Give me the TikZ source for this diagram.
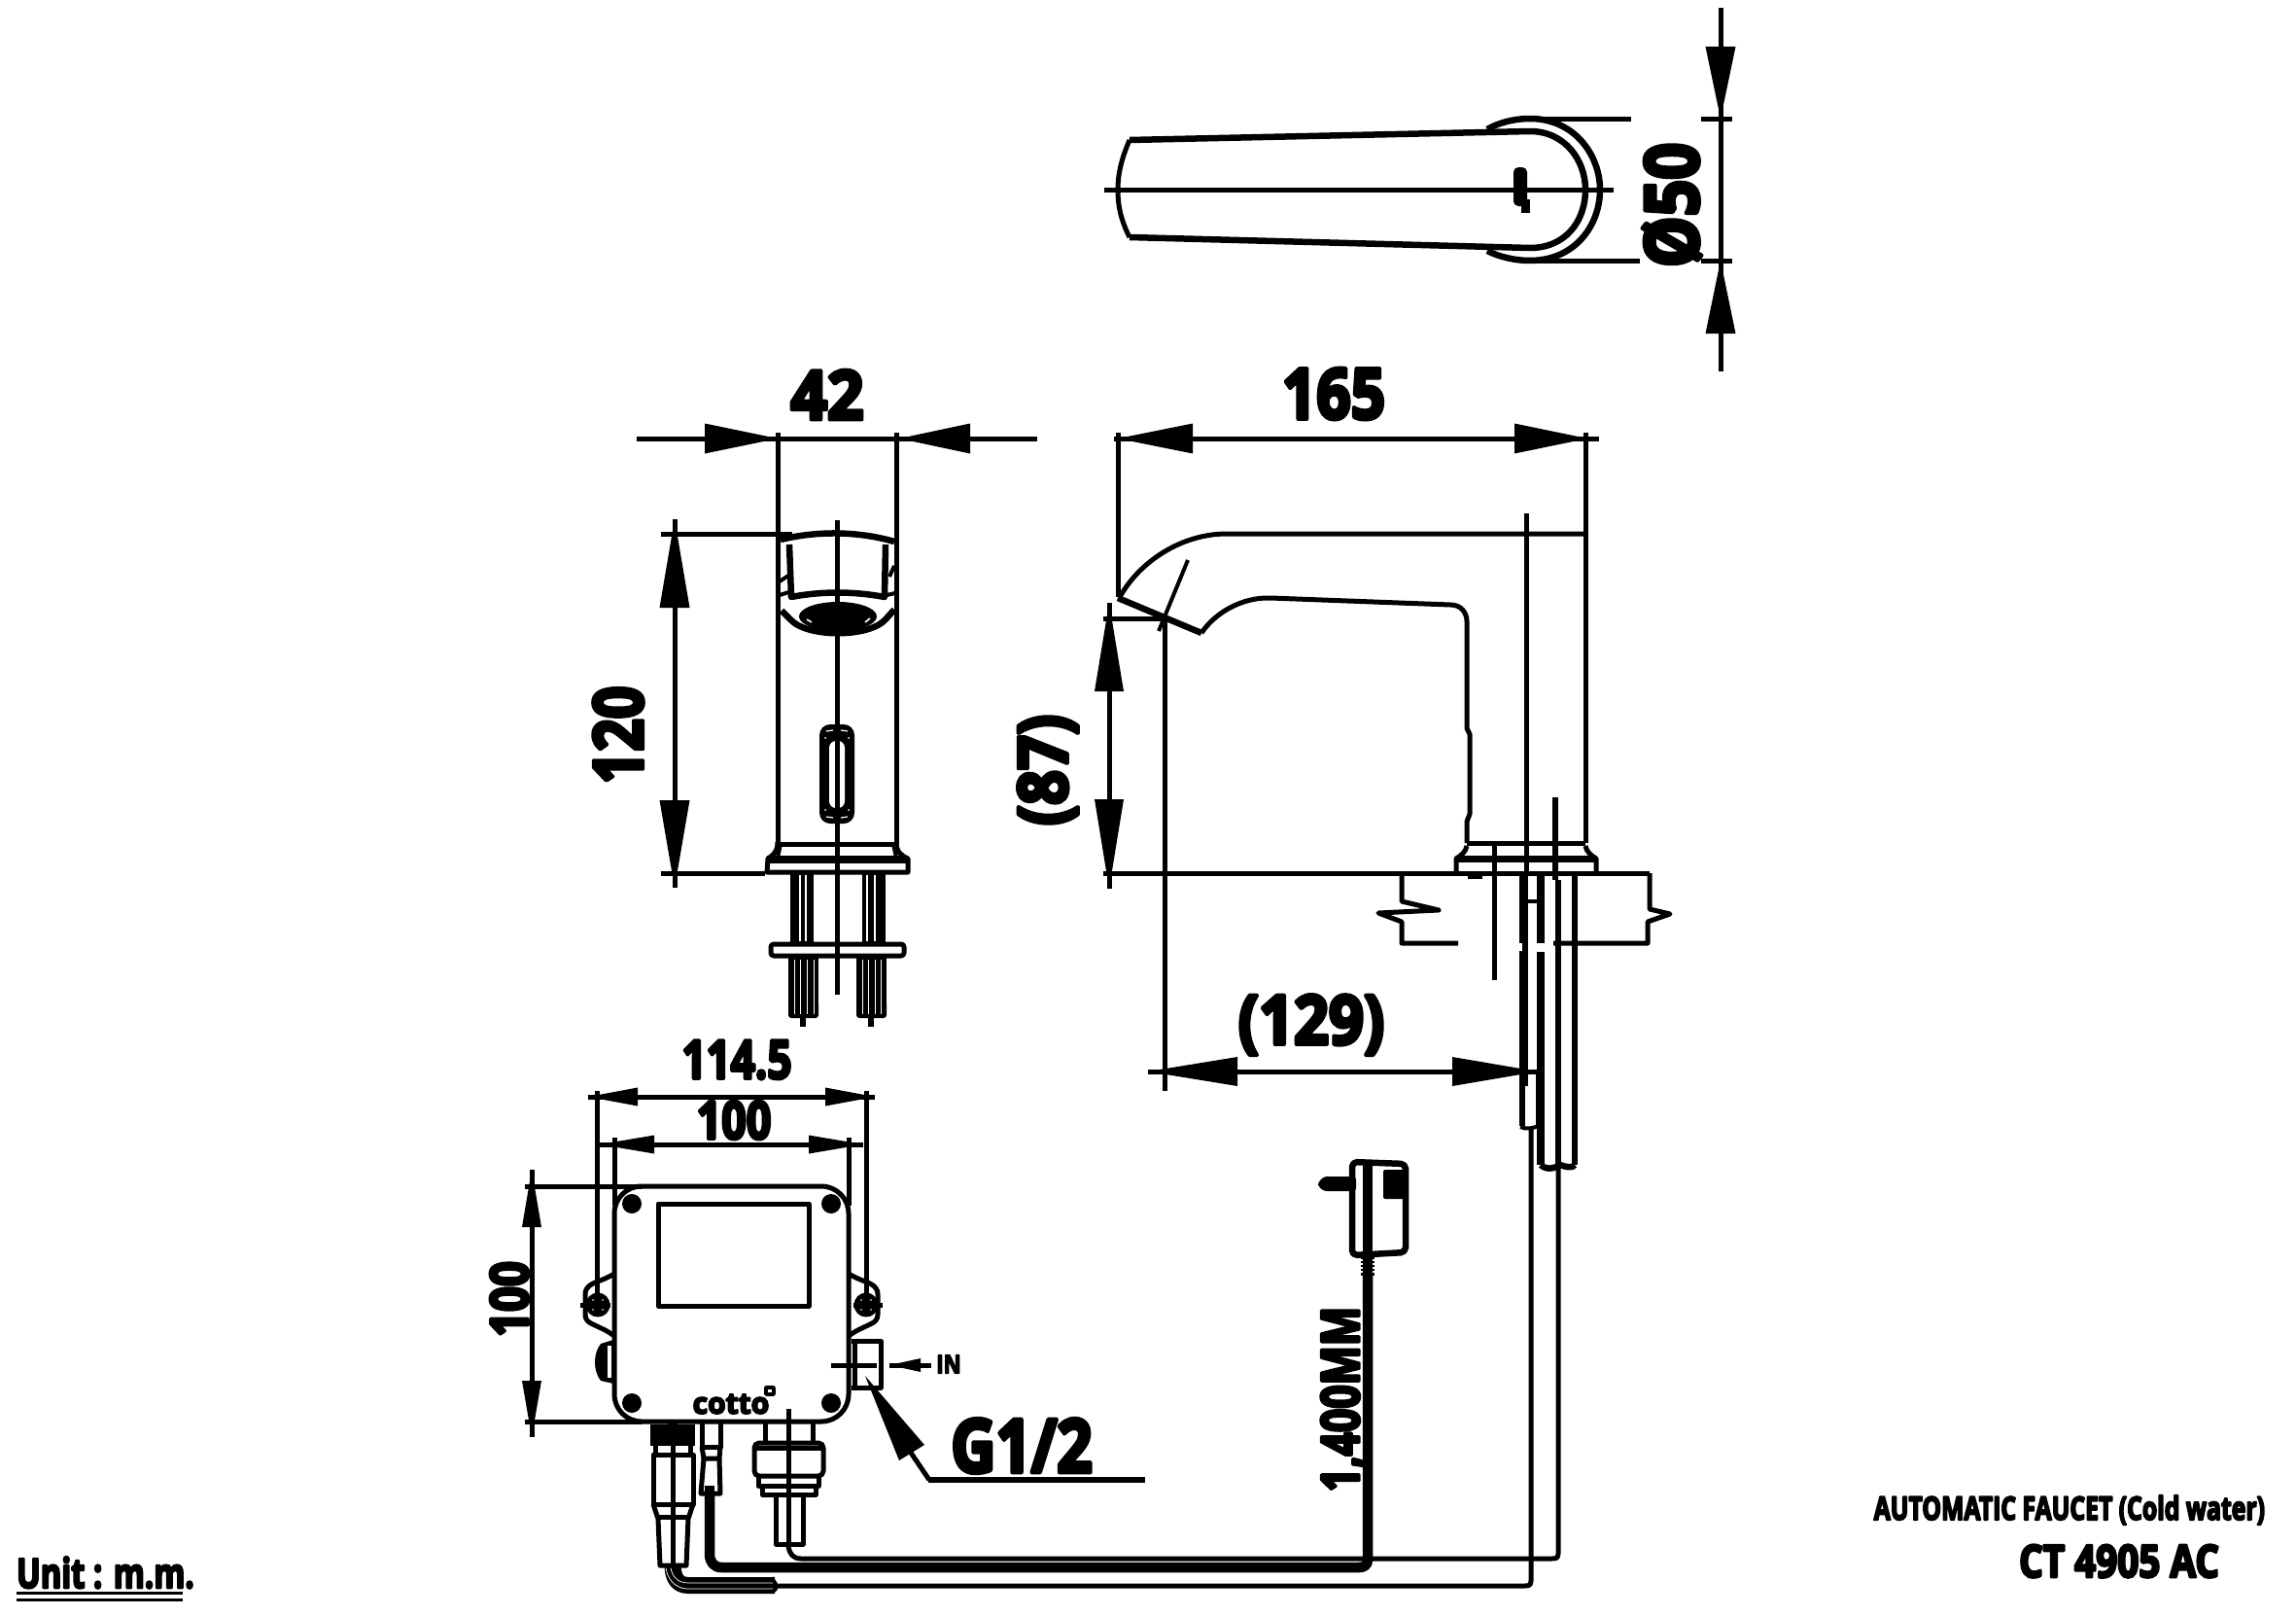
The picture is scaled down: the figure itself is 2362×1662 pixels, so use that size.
\documentclass[tikz,border=0pt]{standalone}
\usepackage{fontspec}
\setmainfont{Open Sans}[BoldFeatures={FakeBold=6}]
\newcommand{\sx}[2]{\scalebox{#1}[1]{#2}}
\newcommand{\fsz}[1]{\fontsize{#1}{#1}\selectfont}
% horizontal head: tip x, base x, y, half width ; vertical head: x, tip y, base y, half width
\newcommand{\arh}[4]{\fill (#1,#3) -- (#2,#3-#4) -- (#2,#3+#4) -- cycle;}
\newcommand{\arv}[4]{\fill (#1,#2) -- (#1-#4,#3) -- (#1+#4,#3) -- cycle;}
\tikzset{
  lbl/.style={inner sep=0pt,outer sep=0pt,font=\bfseries},
  ln/.style={line width=5pt},
  thk/.style={line width=6.5pt},
  thn/.style={line width=4pt},
  wht/.style={white,line width=1.6pt}
}
\begin{document}
\begin{tikzpicture}[x=1pt,y=-1pt,line join=round]
\useasboundingbox (0,0) rectangle (2362,1662);
\fill[white] (0,0) rectangle (2362,1662);

% ---------- TOP VIEW ----------
\draw[ln] (1136,195) -- (1660,195);
\draw[thk] (1530,133) .. controls (1542,126) and (1558,122) .. (1574,122)
  .. controls (1620,122) and (1646,160) .. (1646,195)
  .. controls (1646,232) and (1620,268) .. (1574,268)
  .. controls (1558,268) and (1542,264) .. (1530,258);
\draw[thk] (1162,144) -- (1574,135) .. controls (1610,135) and (1631,165) .. (1631,195)
  .. controls (1631,228) and (1610,255) .. (1574,255) -- (1162,244);
\draw[ln] (1162,144) .. controls (1153,165) and (1150,180) .. (1150,195)
  .. controls (1150,212) and (1153,226) .. (1162,244);
\fill[rounded corners=5pt] (1557,172) rectangle (1571,212);
\fill (1565,205) rectangle (1574,219);
\draw[ln] (1574,122) -- (1678,122);
\draw[ln] (1574,268) -- (1687,268);
\draw[ln] (1770,8) -- (1770,382);
\draw[ln] (1750,122) -- (1782,122);
\draw[ln] (1750,268) -- (1782,268);
\arv{1770}{122}{48}{15.5}
\arv{1770}{268}{343}{15.5}
\node[lbl,rotate=90] (d50) at (1720,211) {\fsz{76}\sx{.87}{Ø50}};

% ---------- FRONT VIEW ----------
\draw[ln] (655,451) -- (1067,451);
\draw[ln] (800,445) -- (800,869);
\draw[ln] (922,445) -- (922,869);
\arh{800}{725}{451}{15.5}
\arh{925}{998}{451}{15.5}
\node[lbl] (d42) at (851,406) {\fsz{70}\sx{.94}{42}};
\draw[ln] (694,534) -- (694,913);
\draw[ln] (680,549) -- (815,549);
\draw[ln] (680,898) -- (787,898);
\arv{694}{534}{625}{15.5}
\arv{694}{913}{823}{15.5}
\node[lbl,rotate=90] (d120) at (636,756) {\fsz{70}\sx{.84}{120}};
\draw[ln] (861,535) -- (861,1023);
% head
\draw[thk] (803,555) .. controls (840,546) and (882,546) .. (920,557);
\draw[thk] (812,560) -- (814,614) .. controls (845,608) and (878,608) .. (910,614) -- (911,560);
\draw[thn] (802,612) -- (815,608) (921,610) -- (908,613);
\draw[thn] (802,598) -- (811,592) (915,593) -- (920,582);
\draw[thk] (804,628) -- (813,637) .. controls (830,656) and (894,656) .. (911,637) -- (920,627);
\fill (862,634) ellipse [x radius=40, y radius=15];
\draw[white,line width=1.6pt] (830,637) -- (835,640) (890,640) -- (895,636);
% sensor
\fill[rounded corners=11pt] (843,745) rectangle (879,847);
\fill[white,rounded corners=7pt] (853,762) rectangle (869,831);
\draw[ln] (861,745) -- (861,847);
\draw[white,line width=1.2pt] (850,752) -- (857,751) (865,751) -- (872,752) (850,840) -- (857,841) (865,841) -- (872,840);
\fill[white] (849,759) circle (1) (873,759) circle (1) (849,833) circle (1) (873,833) circle (1);
% collar
\draw[ln] (800,868) -- (922,868);
\draw[thn] (803,868) -- (800,882) (919,868) -- (922,882);
\draw[ln] (800,866) .. controls (800,876) and (795,880) .. (790,883) -- (789,897) -- (934,897) -- (934,883) .. controls (927,880) and (922,876) .. (922,866);
\draw[line width=8pt] (789,884) -- (934,884);
% pins
\fill (813,898) rectangle (837,969);
\fill (887,898) rectangle (911,969);
\foreach \xa in {823,829,892,900} \draw[wht,line width=1.2pt] (\xa,900) -- (\xa,968);
\draw[ln,rounded corners=3pt] (793,971) rectangle (930,983);
\fill (811,985) rectangle (842,1044);
\fill (881,985) rectangle (912,1044);
\fill[rounded corners=3pt] (811,1030) rectangle (842,1047);
\fill[rounded corners=3pt] (881,1030) rectangle (912,1047);
\fill (823,1047) rectangle (829,1056);
\fill (893,1047) rectangle (899,1056);
\foreach \xa in {817,823,830,837,887,893,900,906} \draw[wht,line width=1pt] (\xa,987) -- (\xa,1043);
\draw[thn] (861,960) -- (861,1023);

% ---------- SIDE VIEW ----------
\draw[ln] (1150,445) -- (1150,614);
\draw[ln] (1631,445) -- (1631,867);
\draw[ln] (1146,451) -- (1645,451);
\arh{1150}{1227}{451}{15.5}
\arh{1633}{1558}{451}{15.5}
\node[lbl] (d165) at (1372,405) {\fsz{72}\sx{.86}{165}};
\draw[ln] (1631,549) -- (1262,549) .. controls (1215,549) and (1172,578) .. (1152,614);
\draw[thk] (1150,615) -- (1236,651);
\draw[ln] (1236,651) .. controls (1250,630) and (1278,614) .. (1307,615) -- (1492,622)
  .. controls (1503,622) and (1509,630) .. (1509,639) -- (1509,749) -- (1512,755) -- (1512,837) -- (1509,845) -- (1509,867);
\draw[ln] (1509,867) -- (1631,867);
\draw[ln] (1509,870) .. controls (1508,876) and (1503,880) .. (1498,883) -- (1498,898);
\draw[ln] (1631,870) .. controls (1632,876) and (1637,880) .. (1642,883) -- (1642,898);
\draw[line width=7pt] (1498,883) -- (1642,883);
\draw[ln] (1135,898) -- (1697,898);
\draw[ln] (1510,901) -- (1525,901);
\draw[ln] (1141,620) -- (1141,914);
\draw[ln] (1135,636) -- (1198,636);
\arv{1141}{620}{711}{15}
\arv{1141}{914}{822}{15}
\draw[ln] (1198,637) -- (1198,1122);
\draw[thn] (1222,576) -- (1192,649);
\node[lbl,rotate=90] (d87) at (1078,792) {\fsz{70}\sx{.9}{(87)}};
\draw[ln] (1181,1102) -- (1581,1102);
\arh{1181}{1273}{1102}{15}
\arh{1582}{1494}{1102}{15}
\node[lbl] (d129) at (1349,1054) {\fsz{70}\sx{.9}{(129)}};
% section break
\draw[ln] (1442,898) -- (1442,927) -- (1480,936) -- (1418,939) -- (1442,948) -- (1442,970) -- (1500,970);
\draw[ln] (1697,898) -- (1697,935) -- (1718,940) -- (1695,948) -- (1695,970) -- (1598,970);
% vertical lines
\draw[ln] (1537,865) -- (1537,1008);
\draw[ln] (1570,528) -- (1570,898);
\draw[line width=9pt] (1567,898) -- (1567,1117);
\draw[thk] (1566,1117) -- (1566,1158);
\fill[white] (1562,970) rectangle (1566,978);
\draw[line width=7.5pt] (1585,900) -- (1585,970);
\draw[line width=7.5pt] (1585,979) -- (1585,1198);
\draw[thn] (1569,927) -- (1585,927);
\draw[thn] (1582,1102) -- (1582,1158);
\draw[thn] (1564,1159) .. controls (1570,1162) and (1578,1160) .. (1583,1158);
\draw[thk] (1600,820) -- (1600,905);
\draw[thk] (1603,905) -- (1603,1198);
\draw[thk] (1620,900) -- (1620,1198);
\draw[thk] (1585,1198) .. controls (1592,1205) and (1602,1200) .. (1605,1198) .. controls (1610,1200) and (1618,1202) .. (1620,1198);

% ---------- PIPES ----------
\draw[ln] (1575,1160) -- (1575,1626) .. controls (1575,1631) and (1572,1631) .. (1568,1631) -- (801,1631);
\draw[ln] (1603,1198) -- (1603,1598) .. controls (1603,1603) and (1600,1603) .. (1596,1603) -- (824,1603) .. controls (816,1603) and (812,1598) .. (811,1590);
\draw[line width=10.5pt] (1407,1312) -- (1407,1604) .. controls (1407,1610) and (1403,1612) .. (1398,1612) -- (742,1612) .. controls (734,1612) and (730,1606) .. (730,1598) -- (730,1538);
\draw[line width=17pt] (797,1630.5) -- (708,1630.5) .. controls (695,1630.5) and (692,1620) .. (692,1608);
\draw[wht,line width=.7pt] (797,1628) -- (708,1628) .. controls (696,1628) and (691,1620) .. (690,1612);
\draw[wht,line width=.7pt] (797,1634) -- (708,1634) .. controls (693,1634) and (686,1622) .. (685,1612);
\fill (795,1621) -- (799,1627) -- (802,1631) -- (799,1636) -- (795,1639) -- cycle;

% ---------- ADAPTER ----------
\draw[thk,rounded corners=5pt] (1391,1195) -- (1446,1197) -- (1446,1288) -- (1391,1291) -- cycle;
\fill[rounded corners=2pt] (1423,1203) rectangle (1447,1233);
\fill[rounded corners=3pt] (1356,1216) -- (1362,1210) -- (1395,1210) -- (1395,1225) -- (1362,1225) -- (1356,1220) -- cycle;
\draw[line width=9.5pt] (1407,1193) -- (1407,1292);
\fill (1400,1293) rectangle (1414,1312);
\foreach \ya in {1296,1300,1304,1308} \draw[wht,line width=1.2pt] (1399,\ya) -- (1402,\ya) (1412,\ya) -- (1415,\ya);
\node[lbl,rotate=90] (dcord) at (1382,1439) {\fsz{54}\sx{.79}{1,400MM}};

% ---------- CONTROL BOX ----------
\draw[ln,rounded corners=28pt] (632,1220) rectangle (873,1462);
\draw[ln] (540,1220) -- (660,1220);
\draw[ln] (540,1462) -- (660,1462);
\draw[ln] (547,1203) -- (547,1478);
\arv{547}{1203}{1262}{10}
\arv{547}{1478}{1420}{10}
\node[lbl,rotate=90] (d100v) at (524,1336) {\fsz{54}\sx{.84}{100}};
\draw[ln] (605,1128) -- (900,1128);
\draw[ln] (614,1122) -- (614,1335);
\draw[ln] (891,1122) -- (891,1335);
\arh{605}{656}{1128}{9.5}
\arh{900}{849}{1128}{9.5}
\node[lbl] (d114) at (758,1090) {\fsz{55}\sx{.8}{114.5}};
\draw[ln] (617,1177) -- (888,1177);
\draw[ln] (632,1170) -- (632,1240);
\draw[ln] (873,1170) -- (873,1240);
\arh{617}{673}{1177}{9.5}
\arh{888}{832}{1177}{9.5}
\node[lbl] (d100h) at (755,1152) {\fsz{54}\sx{.83}{100}};
\draw[ln] (677,1238) rectangle (832,1343);
\foreach \xa/\ya in {650/1238,855/1238,650/1443,855/1443} \fill (\xa,\ya) circle (10);
% ears
\draw[ln] (632,1310) .. controls (622,1316) and (614,1318) .. (610,1320) .. controls (604,1323) and (602,1327) .. (602,1331) -- (602,1352) .. controls (602,1357) and (605,1360) .. (610,1362) .. controls (618,1366) and (624,1368) .. (632,1374);
\draw[ln] (873,1310) .. controls (883,1316) and (891,1318) .. (895,1320) .. controls (901,1323) and (903,1327) .. (903,1331) -- (903,1352) .. controls (903,1357) and (900,1360) .. (895,1362) .. controls (887,1366) and (881,1368) .. (873,1374);
\fill (615,1342) circle (12.5);
\fill (891,1342) circle (12.5);
\draw[ln] (597,1342) -- (628,1342);
\draw[ln] (878,1342) -- (908,1342);
\foreach \xa in {610,620,886,896} \foreach \ya in {1337,1347} \fill[white] (\xa,\ya) circle (.9);
% knob
\fill (631,1378) -- (618,1382) .. controls (610,1392) and (610,1410) .. (618,1420) -- (631,1423) -- cycle;
\fill[white] (625,1384) rectangle (629,1417);
% inlet
\draw[ln] (876,1379) -- (906,1379) -- (906,1427) -- (876,1427);
\draw[ln] (879,1379) -- (879,1427);
\draw[ln] (855,1404) -- (902,1404);
\draw[ln] (915,1404) -- (958,1404);
\fill (915,1404) -- (947,1397) -- (947,1411) -- cycle;
\node[lbl] (dIN) at (976,1403) {\fsz{26}\sx{.85}{IN}};
% G1/2
\fill (890,1415) -- (925,1502) -- (951,1486) -- cycle;
\draw[ln] (937,1494) -- (956,1522);
\draw[thk] (955,1522) -- (1178,1522);
\node[lbl] (dG) at (1051,1487) {\fsz{76}\sx{.84}{G1/2}};
% logo
\node[lbl] (logo) at (752,1444) {\fsz{30}\sx{1}{cotto}};
\draw[line width=3.5pt] (788,1427) rectangle (796,1434);

% ---------- CONNECTORS ----------
\draw[ln] (811,1449) -- (811,1587);
\draw[ln] (787,1463) -- (787,1482);
\draw[ln] (836,1463) -- (836,1482);
\draw[ln,rounded corners=5pt] (776,1484) rectangle (847,1518);
\draw[ln] (776,1489) -- (847,1489);
\draw[ln] (780,1518) -- (780,1528) -- (842,1528) -- (842,1518);
\draw[ln] (784,1528) -- (784,1537) -- (839,1537) -- (839,1528);
\draw[ln] (798,1537) -- (798,1588) -- (826,1588) -- (826,1537);
% left connector
\fill (669,1465) rectangle (715,1487);
\fill (687,1460) rectangle (697,1466);
\draw[ln] (674,1487) -- (674,1495);
\draw[ln] (692,1487) -- (692,1610);
\draw[ln] (710,1487) -- (710,1495);
\draw[ln] (672,1496) -- (713,1496) -- (713,1547) -- (672,1547) -- cycle;
\draw[ln] (672,1547) -- (677,1562) -- (679,1610) -- (706,1610) -- (708,1562) -- (713,1547);
\draw[ln] (677,1560) -- (708,1560);
% middle connector
\draw[ln] (722,1464) -- (722,1488) -- (741,1488) -- (741,1464);
\draw[ln] (722,1488) -- (724,1500) -- (740,1500) -- (741,1488);
\draw[ln] (724,1500) -- (721,1536) -- (741,1536) -- (740,1500);
\fill (725,1528) rectangle (735,1538);

% ---------- CAPTIONS ----------
\node[lbl,anchor=base west] (unit) at (17,1633) {\fsz{42}\sx{.78}{Unit : m.m.}};
\draw[line width=3pt] (17,1638) -- (188,1638);
\draw[line width=3pt] (17,1645) -- (188,1645);
\node[lbl,anchor=base east] (capa) at (2330,1563) {\fsz{33}\sx{.75}{AUTOMATIC FAUCET (Cold water)}};
\node[lbl,anchor=base] (capb) at (2180,1622) {\fsz{46}\sx{.84}{CT 4905 AC}};
\end{tikzpicture}
\end{document}
